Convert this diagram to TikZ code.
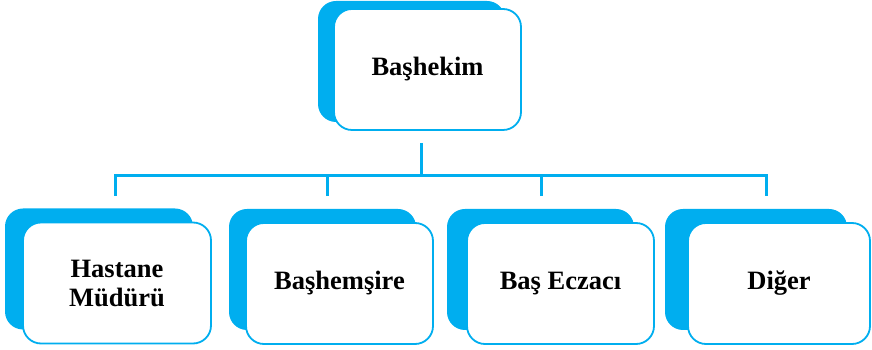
\documentclass[tikz,border=0pt]{standalone}
\usepackage{fontspec}
\setmainfont{Liberation Serif}
\usetikzlibrary{shadows}
\definecolor{orgblue}{RGB}{0,174,239}
\tikzset{
    card/.style 2 args = {rectangle, rounded corners=18pt, draw=orgblue, line width=1.8pt, fill=white,
        minimum width=187pt, minimum height=121pt, align=center,
        font=\bfseries\fontsize{26.5}{29}\selectfont,
        general shadow={fill=orgblue, shadow xshift=#1, shadow yshift=#2}},
    link/.style = {line width=3pt, draw=orgblue},
}

\begin{document}
\begin{tikzpicture}[x=1pt,y=1pt]
\useasboundingbox (0,0) rectangle (872,350);
\node[card={-16pt}{8pt}] at (427.5, 280.5) (top) {Başhekim};
\node[card={-18pt}{14pt}, minimum width=188pt] at (117.0, 67.0) (hm) {Hastane\\Müdürü};
\node[card={-17pt}{14pt}] at (339.5, 66.5) (bh) {Başhemşire};
\node[card={-20pt}{14pt}] at (560.5, 66.5) (be) {Baş Eczacı};
\node[card={-23pt}{14pt}, minimum width=182pt] at (779.0, 66.5) (dg) {Diğer};
%
\coordinate (hub) at ([xshift=-6.5pt,yshift=-45pt]top.south);
\coordinate (s1) at ([xshift=-2pt,yshift=26pt]hm.north);
\coordinate (s4) at ([xshift=-13pt,yshift=26pt]dg.north);
\draw[link] ([xshift=-6.5pt,yshift=-12pt]top.south) -- (hub);
\draw[link] (s1) |- (hub) -| (s4);
\foreach \n/\dx in {bh/-12.5, be/-19.5}
    \draw[link] ([xshift=\dx pt,yshift=26pt]\n.north) -- ([xshift=\dx pt]\n.north |- hub);
\end{tikzpicture}
\end{document}
